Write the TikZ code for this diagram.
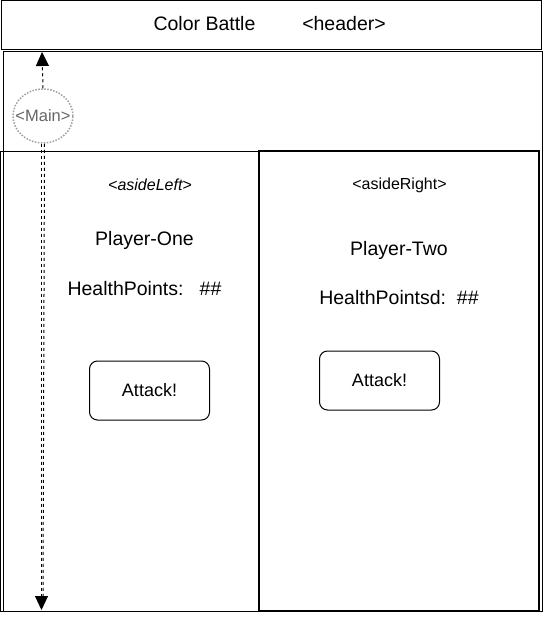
\documentclass[tikz,border=0pt]{standalone}
\usepackage{fontspec}
\setmainfont{Liberation Sans}
\usetikzlibrary{arrows.meta,positioning,shapes.geometric}
\definecolor{cInk}{HTML}{000000}
\definecolor{cGrey}{HTML}{666666}
\definecolor{cDots}{HTML}{A0A0A0}

\begin{document}
\begin{tikzpicture}[
  x=1pt,y=-1pt,
  font=\fontsize{19.5}{23}\selectfont,
  frame/.style={line width=1pt,color=cInk},
  lbl/.style={inner sep=0pt,color=cInk},
  tag/.style={inner sep=0pt,color=cInk,font=\fontsize{16}{19}\selectfont},
  btn/.style={draw,line width=1pt,color=cInk,rounded corners=8pt,
    minimum width=120pt,minimum height=59pt,font=\fontsize{18}{21}\selectfont},
  ar/.style={-{Triangle[length=14pt,width=13pt]},line width=1pt,color=cInk,
    dash pattern=on 3pt off 3pt},
]
\useasboundingbox (0,0) rectangle (543,626);

% ============================================================ header
\draw[frame] (1,1) rectangle (541,50);
\node[lbl] (title) at (204.5,24) {Color Battle};
\node[lbl] (headTag) at (344,24) {<header>};

% ============================================================ main + asides
\draw[frame] (3,52) rectangle (542,611);
\draw[frame] (0.5,151) rectangle (259,611);
\draw[frame,line width=1.2pt] (259,151) rectangle (539,611);

% ---- left aside
\node[tag,font=\fontsize{16}{19}\selectfont\itshape] (leftTag) at (150,185) {<asideLeft>};
\node[lbl] (playerOne) at (144.5,240) {Player-One};
\node[lbl] (hpOne) at (144.5,289) {HealthPoints:\ \ \ \#\#};
\node[btn] (attackOne) at (149.5,390.5) {Attack!};

% ---- right aside
\node[tag] (rightTag) at (399.5,185) {<asideRight>};
\node[lbl] (playerTwo) at (399,250) {Player-Two};
\node[lbl] (hpTwo) at (399,298) {HealthPointsd:\ \ \#\#};
\node[btn] (attackTwo) at (379.5,380.5) {Attack!};

% ============================================================ main marker
\node[ellipse,draw=cDots,line width=1.5pt,dash pattern=on 1.5pt off 1.5pt,
  minimum width=60pt,minimum height=54pt,inner sep=0pt] (mainTag) at (43,116) {};
\node[tag,color=cGrey,font=\fontsize{16.5}{19}\selectfont] (mainLbl) at (mainTag.center) {<Main>};
\coordinate (mainTop) at (42,52);
\coordinate (mainBot) at (41.5,610);
\draw[ar] (mainTag.north) -- (mainTop);
\draw[ar] ([xshift=-1.5pt]mainTag.south) -- (mainBot);
\draw[line width=1pt,dash pattern=on 3pt off 3pt]
  ([xshift=1.5pt]mainTag.south) -- ([xshift=1.5pt,yshift=14pt]mainBot);

\end{tikzpicture}
\end{document}
